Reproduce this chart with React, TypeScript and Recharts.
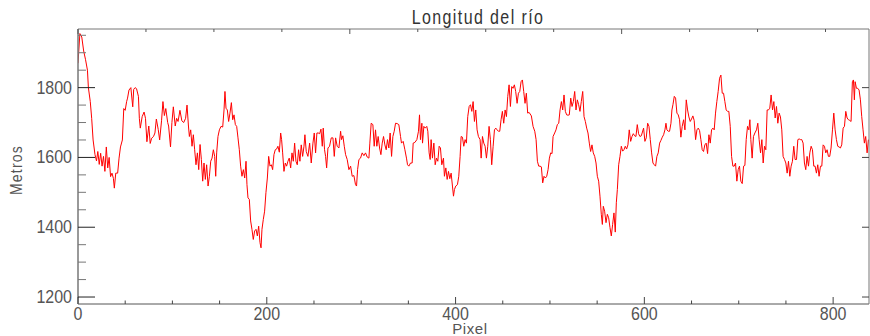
import { Line, LineChart, XAxis, YAxis } from "recharts";

const tramo1: [number, number][] = [
  [0, 1870], [2, 1955], [4, 1945], [6, 1905], [8, 1880], [10, 1850], [11, 1800], [13, 1760],
  [14.5, 1712], [16, 1650], [18, 1608], [19.6, 1590], [21, 1617], [22.5, 1580], [24, 1612],
  [25.5, 1575], [27, 1603], [28.5, 1560], [30, 1630], [31.5, 1570], [33, 1600], [34.5, 1545],
  [36, 1555], [37.5, 1540], [38.5, 1512], [40, 1555], [42, 1555], [43.5, 1598], [45, 1630],
  [47, 1650], [48.5, 1740], [50, 1735], [51.5, 1760], [52.5, 1770], [54, 1793], [56, 1800],
  [58, 1745], [59, 1795], [60.5, 1800], [62, 1797], [64, 1775], [65, 1712], [66, 1684],
  [68, 1717], [70, 1730], [71.5, 1712], [73, 1645], [75, 1690], [76.5, 1640], [78, 1655],
  [80, 1660], [81.5, 1670], [83, 1710], [85, 1680], [86.5, 1650], [88.5, 1705], [90, 1760],
  [91.5, 1720], [93, 1740], [95, 1700], [96, 1690], [98, 1630], [99.5, 1700], [101, 1745],
  [103, 1690], [104.5, 1712], [106, 1703], [108, 1735], [110, 1705], [112, 1700], [114, 1712],
  [115.5, 1750], [117, 1690],
];

const tramo2: [number, number][] = [
  [118, 1660], [119.4, 1679], [120.8, 1632], [122.2, 1665], [123.6, 1622], [125, 1579],
  [126.5, 1613], [127.9, 1565], [129.3, 1637], [130.7, 1594], [132.1, 1532], [133.5, 1584],
  [134.9, 1537], [136.3, 1579], [137.8, 1518], [139.2, 1546], [140.6, 1589], [142, 1598],
  [143.4, 1622], [144.8, 1603], [145.9, 1546], [146.9, 1613], [148.3, 1660], [149.8, 1679],
  [151.5, 1689], [153.3, 1687], [154.7, 1736], [155.7, 1789], [156.8, 1741], [158.2, 1736],
  [159.6, 1703], [161, 1727], [162.5, 1757], [163.9, 1708], [165.3, 1722], [166.7, 1694],
  [168.1, 1689], [169.5, 1656], [170.9, 1622], [172.3, 1575], [173.7, 1546], [175.2, 1565],
  [176.6, 1541], [178, 1589], [179, 1522], [180.1, 1484], [181.5, 1480], [182.9, 1418],
  [184.3, 1394], [185.7, 1365], [187.1, 1389], [188.6, 1394], [190, 1375], [191.4, 1403],
  [192.8, 1356], [193.9, 1341], [194.9, 1394], [196.3, 1422], [197.7, 1446], [199.1, 1499],
  [200.6, 1541], [202, 1603], [203.4, 1575], [204.8, 1579], [206.2, 1565], [207.6, 1608],
  [209, 1622], [210.4, 1624], [211.8, 1632], [213.3, 1615], [214.7, 1670], [215.7, 1651],
  [216.8, 1613], [218.2, 1560], [219.6, 1584], [221, 1575], [222.4, 1589], [223.8, 1598],
  [225.3, 1570], [226.7, 1613], [228.1, 1589], [229.5, 1641], [230.9, 1589], [232.3, 1579],
  [233.7, 1622], [235.1, 1589], [236.5, 1636], [238, 1603], [239.4, 1632],
];

const tramo3: [number, number][] = [
  [240.4, 1665], [241.8, 1617], [243.6, 1603], [245.4, 1641], [247.1, 1584], [248.9, 1641],
  [250.3, 1670], [251.7, 1613], [253.1, 1670], [254.5, 1670], [256, 1668], [257.4, 1681],
  [258.8, 1632], [259.8, 1684], [261.2, 1622], [262.3, 1603], [263.4, 1570], [264.8, 1627],
  [266.5, 1632], [268.3, 1656], [270.1, 1656], [271.5, 1603], [272.9, 1656], [274.6, 1632],
  [276.4, 1627], [278.2, 1675], [279.2, 1651], [280.6, 1662], [282.1, 1632], [283.5, 1608],
  [285.2, 1594], [287, 1565], [288.8, 1575], [290.5, 1546], [292.3, 1548], [294, 1522],
  [295.1, 1518], [296.2, 1565], [297.6, 1594], [299.3, 1598], [301.1, 1613], [302.9, 1605],
  [304.6, 1613], [306.4, 1601], [308.2, 1598], [309.2, 1641], [310.6, 1698], [312.4, 1694],
  [313.8, 1632], [315.2, 1679], [316.6, 1632], [318, 1660], [319.5, 1627], [320.9, 1608],
  [322.3, 1641], [323.7, 1660], [325.1, 1636], [326.5, 1622], [327.9, 1651], [329.3, 1627],
  [330.7, 1670], [332.2, 1603], [333.6, 1660], [335, 1675], [336.4, 1698], [338.1, 1697],
  [339.9, 1694], [341.7, 1660], [342.7, 1641], [344.5, 1646], [346.3, 1622], [348, 1598],
  [349.1, 1579], [350.5, 1575], [352.3, 1584], [354, 1584], [355.1, 1641], [356.9, 1643],
];

const tramo4: [number, number][] = [
  [359, 1651], [360.7, 1675], [361.8, 1722], [362.8, 1651], [364.3, 1698], [365, 1641],
  [366.4, 1689], [367.8, 1684], [369.5, 1689], [370.6, 1675], [372, 1613], [373.1, 1594],
  [374.1, 1651], [375.5, 1598], [377, 1641], [378.4, 1579], [379.8, 1598], [381.2, 1589],
  [382.6, 1632], [384, 1627], [385.4, 1579], [387.2, 1598], [388.2, 1546], [389.7, 1570],
  [391.1, 1537], [392.5, 1560], [393.9, 1539], [395.3, 1555], [396.7, 1518], [397.8, 1489],
  [398.8, 1508], [400.2, 1518], [402, 1522], [403.4, 1546], [404.8, 1603], [405.9, 1660],
  [407.3, 1658], [408.7, 1632], [410.1, 1651], [411.5, 1641], [412.9, 1717], [414.4, 1746],
  [415.8, 1751], [417.2, 1732], [418.6, 1760], [420, 1703], [421.4, 1736], [422.8, 1679],
  [424.2, 1660], [426, 1651], [427.1, 1598], [428.5, 1660], [429.9, 1641], [431.3, 1632],
  [432.7, 1598], [434.1, 1632], [435.5, 1689], [436.9, 1651], [438.3, 1579], [439.8, 1632],
  [441.2, 1679], [442.6, 1684], [444, 1679], [445.4, 1675], [446.8, 1675], [448.2, 1708],
  [449.6, 1732], [451, 1698], [452.5, 1736], [453.9, 1717], [455.3, 1775], [456.7, 1808],
  [458.1, 1746], [459.5, 1803], [460.9, 1798], [462.3, 1808], [463.7, 1789], [465.2, 1755],
  [466.6, 1784], [468, 1789], [469.4, 1817], [470.8, 1822], [472.2, 1789], [473.6, 1755],
  [475, 1784], [476.4, 1727], [477.9, 1729],
];

const tramo5: [number, number][] = [
  [480.3, 1719], [482.1, 1689], [483.9, 1675], [485.3, 1651], [486.7, 1589], [488.1, 1575],
  [489.5, 1575], [490.9, 1573], [492.3, 1527], [493.7, 1546], [495.1, 1541], [496.6, 1546],
  [498, 1565], [499.4, 1598], [500.8, 1613], [502.2, 1611], [503.3, 1660], [505, 1670],
  [506.4, 1679], [507.8, 1694], [509.3, 1698], [510.7, 1736], [512.1, 1760], [513.5, 1736],
  [514.9, 1779], [516.3, 1732], [517.7, 1722], [519.1, 1721], [520.5, 1722], [522, 1770],
  [523.4, 1746], [524.8, 1760], [526.2, 1789], [527.6, 1736], [529, 1765], [530.4, 1751],
  [531.8, 1732], [533.2, 1760], [534.7, 1789], [536.1, 1717], [537.5, 1703], [538.9, 1684],
  [540.3, 1670], [541.7, 1641], [543.1, 1617], [544.5, 1636], [545.9, 1613], [547.4, 1603],
  [548.8, 1584], [550.2, 1546], [551.6, 1532], [553, 1489], [554.4, 1437], [555.5, 1408],
  [556.5, 1460], [557.9, 1446], [559.4, 1413], [560.8, 1437], [562.2, 1427], [563.6, 1399],
  [565, 1375], [566.4, 1408], [567.8, 1441], [569.2, 1386], [570.3, 1470], [571.4, 1508],
  [572.8, 1579], [574.2, 1603], [575.6, 1632], [577, 1618], [578.4, 1622], [579.8, 1632],
  [581.2, 1624], [582.6, 1636], [584, 1679], [585.5, 1646], [586.9, 1660], [588.3, 1668],
  [589.7, 1662], [591.1, 1660], [592.5, 1694], [593.9, 1668], [595.3, 1660], [596.8, 1662],
];

const tramo6: [number, number][] = [
  [599.2, 1684], [600.6, 1646], [602, 1656], [603.5, 1698], [604.9, 1689], [606.3, 1651],
  [607.7, 1613], [609.1, 1584], [610.5, 1579], [611.9, 1575], [613.3, 1603], [614.7, 1613],
  [616.2, 1641], [617.6, 1649], [619, 1658], [620.4, 1665], [621.8, 1679], [622.9, 1698],
  [623.9, 1679], [625.3, 1675], [626.7, 1675], [628.2, 1698], [629.2, 1736], [630.3, 1751],
  [631.7, 1775], [633.1, 1770], [634.5, 1727], [635.9, 1722], [637.3, 1708], [638.7, 1658],
  [640.1, 1689], [641.6, 1708], [643, 1679], [644.4, 1765], [645.8, 1736], [647.2, 1716],
  [648.6, 1703], [650, 1710], [651.4, 1719], [652.8, 1706], [654.3, 1651], [655.7, 1679],
  [657.1, 1684], [658.5, 1677], [659.9, 1651], [661.3, 1622], [662.7, 1617], [664.1, 1636],
  [665.5, 1641], [667, 1611], [668.4, 1665], [669.8, 1641], [671.2, 1679], [672.6, 1684],
  [674, 1679], [675.4, 1727], [676.8, 1760], [678.2, 1789], [679.7, 1827], [681.1, 1836],
  [682.5, 1784], [683.9, 1784], [685.3, 1760], [686.7, 1736], [688.1, 1732], [689.5, 1732],
  [691, 1689], [692.4, 1603], [693.8, 1575], [695.2, 1575], [696.6, 1584], [698, 1532],
  [699.4, 1565], [700.8, 1575], [702.2, 1532], [703.7, 1525], [705.1, 1575], [706.5, 1577],
  [707.9, 1651], [709.3, 1689], [710.7, 1679], [711.8, 1708], [712.8, 1651], [714.2, 1598],
  [715.6, 1660], [717.1, 1670],
];

const tramo7: [number, number][] = [
  [718.8, 1679], [720.2, 1698], [721.6, 1651], [723.1, 1613], [724.5, 1651], [725.9, 1584],
  [727.3, 1632], [728.7, 1622], [730.1, 1736], [731.5, 1736], [732.9, 1741], [734.3, 1779],
  [735.8, 1736], [737.2, 1760], [738.6, 1713], [740, 1746], [741.4, 1698], [742.8, 1727],
  [744.2, 1716], [745.6, 1679], [747, 1603], [748.5, 1594], [749.9, 1584], [751.3, 1555],
  [752.7, 1589], [754.1, 1546], [755.5, 1575], [756.9, 1589], [758.3, 1632], [759.7, 1594],
  [761.2, 1594], [762.6, 1651], [764, 1653], [765.4, 1651], [766.8, 1651], [768.2, 1641],
  [769.6, 1584], [771, 1565], [772.4, 1603], [773.9, 1575], [775.3, 1613], [776.7, 1632],
  [778.1, 1622], [779.5, 1575], [780.9, 1575], [782.3, 1555], [783.7, 1579], [785.1, 1546],
  [786.6, 1575], [788, 1575], [789.4, 1636], [790.8, 1632], [792.2, 1613], [793.6, 1622],
  [795, 1603], [796.4, 1603], [797.8, 1627], [799.3, 1679], [800.7, 1727], [802.1, 1679],
  [803.5, 1651], [804.9, 1632], [806.3, 1630], [807.7, 1627], [809.1, 1636], [810.6, 1684],
  [812, 1689], [813.4, 1732], [814.8, 1713], [816.2, 1708], [817.6, 1706], [819, 1703],
  [820.4, 1817], [821.5, 1822], [822.5, 1765], [823.3, 1817], [824.7, 1798], [826.1, 1798],
  [827.5, 1793], [828.9, 1765], [830.3, 1717], [831.7, 1679], [833.1, 1641], [834.5, 1660],
  [836, 1613], [837.4, 1651],
];

const xTicks = [0, 50, 100, 150, 200, 250, 300, 350, 400, 450, 500, 550, 600, 650, 700, 750, 800];
const yTicks = [1200, 1250, 1300, 1350, 1400, 1450, 1500, 1550, 1600, 1650, 1700, 1750, 1800, 1850, 1900, 1950];
const yMajor = [1200, 1400, 1600, 1800];

const data = [...tramo1, ...tramo2, ...tramo3, ...tramo4, ...tramo5, ...tramo6, ...tramo7].map(
  ([pixel, metros]) => ({ pixel, metros })
);

const FONT = "'Liberation Sans', Arial, sans-serif";
const TEXT = "#555";

function LeftTick(props: any) {
  const { x, y, payload } = props;
  const major = payload.value % 200 === 0;
  return (
    <g>
      <line x1={x} x2={x + (major ? 17 : 8)} y1={y} y2={y} stroke={major ? "#222" : "#777"} />
      {major && (
        <text
          transform={`translate(${x - 6},${y + 6}) scale(1,1.2)`}
          textAnchor="end"
          fontSize={16}
          fontFamily={FONT}
          fill={TEXT}
        >
          {payload.value}
        </text>
      )}
    </g>
  );
}

function RightTick(props: any) {
  const { x, y } = props;
  return <line x1={x} x2={x - 7} y1={y} y2={y} stroke="#444" />;
}

function BottomTick(props: any) {
  const { x, y, payload } = props;
  const major = payload.value % 200 === 0;
  return (
    <g>
      <line x1={x} x2={x} y1={y} y2={y - (major ? 7 : 3.5)} stroke="#444" />
      {major && (
        <text
          transform={`translate(${x},${y + 16}) scale(1,1.15)`}
          textAnchor="middle"
          fontSize={16}
          fontFamily={FONT}
          fill={TEXT}
        >
          {payload.value}
        </text>
      )}
    </g>
  );
}

function TopTick(props: any) {
  const { x, y, payload } = props;
  const major = payload.value % 200 === 0;
  return <line x1={x} x2={x} y1={y} y2={y + (major ? 5 : 3)} stroke="#555" />;
}

export default function App() {
  return (
    <div style={{ position: "absolute", left: 0, top: 0, width: 870, height: 336, background: "#fff" }}>
      <LineChart width={870} height={336} data={data} margin={{ top: 0, right: 0, bottom: 0, left: 0 }}>
        <XAxis
          xAxisId="b"
          dataKey="pixel"
          type="number"
          domain={[0, 838]}
          allowDataOverflow
          ticks={xTicks}
          interval={0}
          height={32}
          tickSize={0}
          tickMargin={0}
          tickLine={false}
          tick={<BottomTick />}
          axisLine={{ stroke: "#555" }}
        />
        <XAxis
          xAxisId="t"
          orientation="top"
          type="number"
          domain={[0, 838]}
          allowDataOverflow
          ticks={xTicks}
          interval={0}
          height={29}
          tickSize={0}
          tickMargin={0}
          tickLine={false}
          tick={<TopTick />}
          axisLine={{ stroke: "#777" }}
        />
        <YAxis
          yAxisId="l"
          type="number"
          domain={[1180, 1968]}
          allowDataOverflow
          ticks={yTicks}
          interval={0}
          width={78}
          tickSize={0}
          tickMargin={0}
          tickLine={false}
          tick={<LeftTick />}
          axisLine={{ stroke: "#777", strokeWidth: 1.5 }}
        />
        <YAxis
          yAxisId="r"
          orientation="right"
          type="number"
          domain={[1180, 1968]}
          allowDataOverflow
          ticks={yMajor}
          interval={0}
          width={1}
          tickSize={0}
          tickMargin={0}
          tickLine={false}
          tick={<RightTick />}
          axisLine={{ stroke: "#777" }}
        />
        <Line
          xAxisId="b"
          yAxisId="l"
          dataKey="metros"
          type="linear"
          stroke="#ff0000"
          strokeWidth={1}
          dot={false}
          isAnimationActive={false}
        />
      </LineChart>
      <svg
        width={870}
        height={336}
        style={{ position: "absolute", left: 0, top: 0, pointerEvents: "none" }}
      >
        <text
          transform="translate(478,24) scale(1,1.22)"
          textAnchor="middle"
          fontSize={16}
          letterSpacing={1.4}
          fontFamily={FONT}
          fill="#333"
        >
          Longitud del río
        </text>
        <text
          x={470}
          y={334}
          textAnchor="middle"
          fontSize={15}
          letterSpacing={0.6}
          fontFamily={FONT}
          fill={TEXT}
        >
          Pixel
        </text>
        <text
          transform="translate(22,170) rotate(-90) scale(1,1.15)"
          textAnchor="middle"
          fontSize={14}
          letterSpacing={1.2}
          fontFamily={FONT}
          fill={TEXT}
        >
          Metros
        </text>
      </svg>
    </div>
  );
}
